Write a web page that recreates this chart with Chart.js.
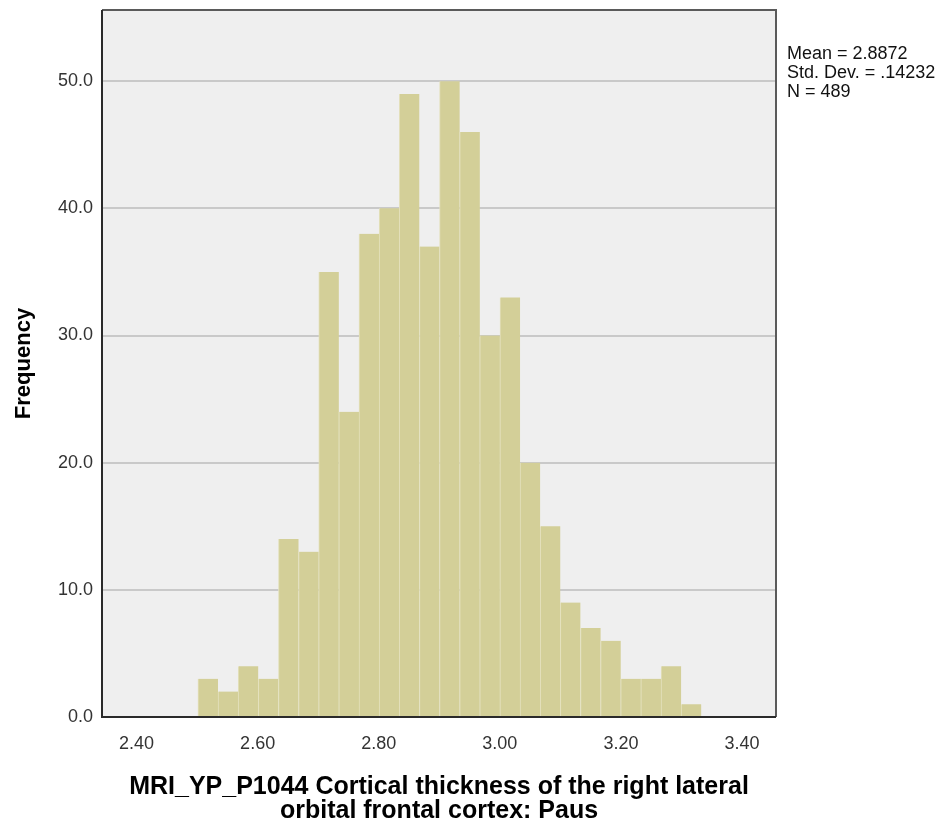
<!DOCTYPE html>
<html>
<head>
<meta charset="utf-8">
<script src="https://cdn.jsdelivr.net/npm/chart.js@4/dist/chart.umd.min.js"></script>
<style>
  body { margin: 0; background: #fff; }
  canvas { display: block; }
</style>
</head>
<body>
<canvas id="histograma" width="941" height="827"></canvas>
<script>
// centros das classes (espessura cortical) e frequencias
const centros = [2.5180, 2.5513, 2.5845, 2.6178, 2.6510, 2.6843, 2.7175, 2.7508, 2.7840,
  2.8173, 2.8505, 2.8838, 2.9170, 2.9503, 2.9835, 3.0168, 3.0500, 3.0833, 3.1165,
  3.1498, 3.1830, 3.2163, 3.2495, 3.2828, 3.3160];
const frequencias = [3, 2, 4, 3, 14, 13, 35, 24, 38, 40, 49, 37, 50, 46, 30, 33, 20, 15, 9, 7, 6, 3, 3, 4, 1];
const ticksX = [2.40, 2.60, 2.80, 3.00, 3.20, 3.40];
const ticksY = [0, 10, 20, 30, 40, 50];
const estatisticas = ['Mean = 2.8872', 'Std. Dev. = .14232', 'N = 489'];
const tituloX = ['MRI_YP_P1044 Cortical thickness of the right lateral', 'orbital frontal cortex: Paus'];
const tituloY = 'Frequency';

const fonte = "'Liberation Sans', Arial, sans-serif";

// fundo cinza e moldura da area do grafico
const moldura = {
  id: 'moldura',
  beforeDraw(chart) {
    const { ctx, chartArea: a } = chart;
    ctx.save();
    ctx.fillStyle = '#efefef';
    ctx.fillRect(a.left, a.top, a.right - a.left, a.bottom - a.top);
    ctx.restore();
  },
  afterDatasetsDraw(chart) {
    const { ctx, chartArea: a } = chart;
    ctx.save();
    ctx.lineWidth = 2;
    ctx.strokeStyle = '#5a5a5a';
    ctx.beginPath();
    ctx.moveTo(a.left, a.top);
    ctx.lineTo(a.right, a.top);
    ctx.lineTo(a.right, a.bottom);
    ctx.stroke();
    ctx.strokeStyle = '#2a2a2a';
    ctx.beginPath();
    ctx.moveTo(a.left, a.top);
    ctx.lineTo(a.left, a.bottom);
    ctx.lineTo(a.right, a.bottom);
    ctx.stroke();
    ctx.restore();
  },
  afterDraw(chart) {
    const { ctx, chartArea: a } = chart;
    ctx.save();
    ctx.font = '18px ' + fonte;
    ctx.fillStyle = '#111';
    ctx.textBaseline = 'middle';
    estatisticas.forEach((t, i) => ctx.fillText(t, a.right + 11, 54 + i * 19));
    ctx.restore();
  }
};

new Chart(document.getElementById('histograma'), {
  type: 'bar',
  data: {
    datasets: [{
      data: centros.map((c, i) => ({ x: c, y: frequencias[i] })),
      backgroundColor: '#d3cf98',
      borderColor: '#e4e1bd',
      borderWidth: { left: 1, right: 0, top: 0, bottom: 0 },
      borderSkipped: false,
      barPercentage: 1,
      categoryPercentage: 1
    }]
  },
  options: {
    responsive: false,
    devicePixelRatio: 1,
    animation: false,
    layout: { padding: { top: 10, right: 165, left: 0, bottom: 0 } },
    plugins: { legend: { display: false }, tooltip: { enabled: false } },
    scales: {
      x: {
        type: 'linear',
        min: 2.343,
        max: 3.456,
        offset: false,
        grid: { display: false, offset: false },
        border: { display: false },
        afterBuildTicks: s => { s.ticks = ticksX.map(v => ({ value: v })); },
        afterFit: s => { s.height = 110; s.paddingLeft = 0; s.paddingRight = 0; },
        ticks: {
          color: '#333',
          padding: 8,
          maxRotation: 0,
          font: { family: fonte, size: 18 },
          callback: v => Number(v).toFixed(2)
        },
        title: {
          display: true,
          text: tituloX,
          color: '#000',
          padding: { top: 0, bottom: 4 },
          font: { family: fonte, size: 25, weight: 'bold', lineHeight: 0.95 }
        }
      },
      y: {
        min: 0,
        max: 55.6,
        border: { display: false },
        grid: { color: '#c9c9c9', lineWidth: 2, drawTicks: false },
        afterBuildTicks: s => { s.ticks = ticksY.map(v => ({ value: v })); },
        afterFit: s => { s.width = 102; s.paddingTop = 0; s.paddingBottom = 0; },
        ticks: {
          color: '#333',
          padding: 9,
          font: { family: fonte, size: 18 },
          callback: v => Number(v).toFixed(1)
        },
        title: {
          display: true,
          text: tituloY,
          color: '#000',
          padding: { top: 11, bottom: 0 },
          font: { family: fonte, size: 22, weight: 'bold' }
        }
      }
    }
  },
  plugins: [moldura]
});
</script>
</body>
</html>
